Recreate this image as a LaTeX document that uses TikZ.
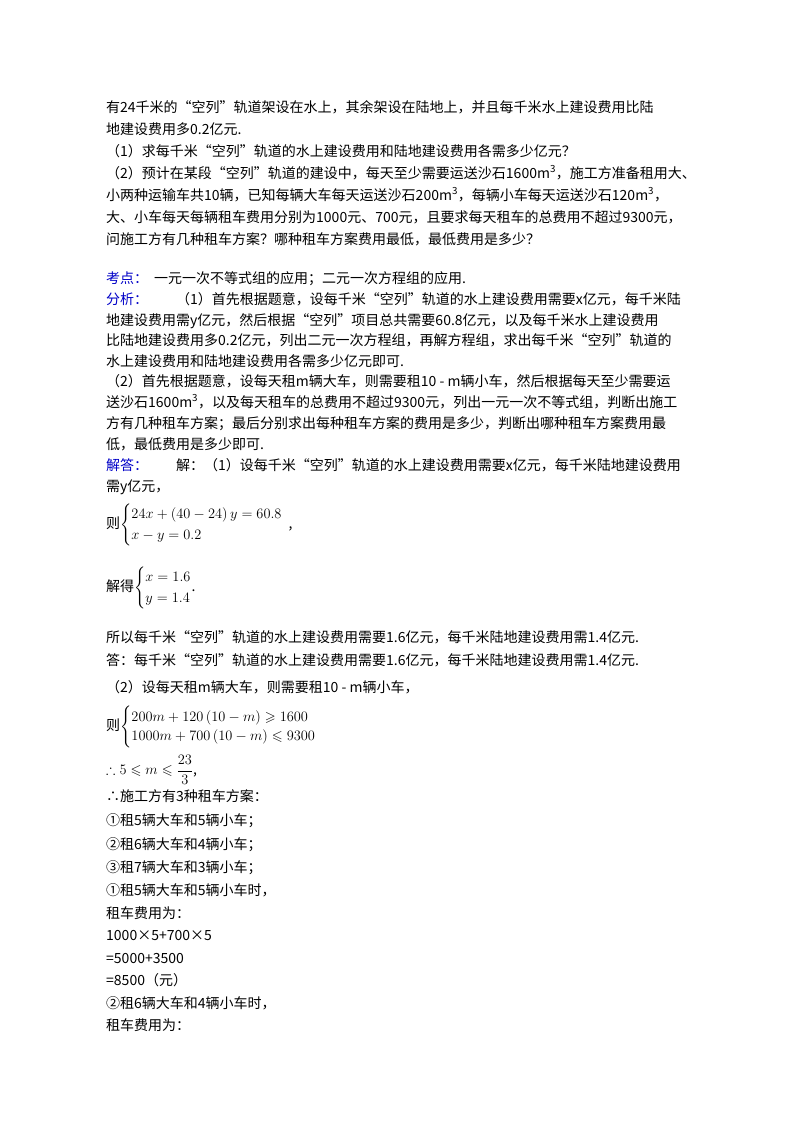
\documentclass[tikz,border=0pt]{standalone}
\usepackage{amsmath,amssymb}
\usepackage{fontspec}
\setmainfont{Noto Sans CJK SC}
\begin{document}
\begin{tikzpicture}[x=1pt,y=-1pt,
  ln/.style={anchor=base west,inner sep=0pt,font=\fontsize{14}{16}\selectfont},
  kw/.style={ln,text={rgb,255:red,0;green,0;blue,200}}]
\useasboundingbox (0,0) rectangle (800,1132);
\fill[white] (0,0) rectangle (800,1132);
\node[ln] (l1) at (106,112) {有24千米的“空列”轨道架设在水上，其余架设在陆地上，并且每千米水上建设费用比陆};
\node[ln] (l2) at (106,134) {地建设费用多0.2亿元.};
\node[ln] (l3) at (106,156) {（1）求每千米“空列”轨道的水上建设费用和陆地建设费用各需多少亿元？};
\node[ln] (l4) at (106,178) {（2）预计在某段“空列”轨道的建设中，每天至少需要运送沙石1600m\textsuperscript{3}，施工方准备租用大、};
\node[ln] (l5) at (106,200) {小两种运输车共10辆，已知每辆大车每天运送沙石200m\textsuperscript{3}，每辆小车每天运送沙石120m\textsuperscript{3}，};
\node[ln] (l6) at (106,222) {大、小车每天每辆租车费用分别为1000元、700元，且要求每天租车的总费用不超过9300元，};
\node[ln] (l7) at (106,244) {问施工方有几种租车方案？哪种租车方案费用最低，最低费用是多少？};
\node[kw] (k1) at (106,283) {考点：};
\node[ln] (k1t) at (154,283) {一元一次不等式组的应用；二元一次方程组的应用.};
\node[kw] (k2) at (106,304) {分析：};
\node[ln] (k2t) at (176,304) {（1）首先根据题意，设每千米“空列”轨道的水上建设费用需要x亿元，每千米陆};
\node[ln] (a2) at (106,325) {地建设费用需y亿元，然后根据“空列”项目总共需要60.8亿元，以及每千米水上建设费用};
\node[ln] (a3) at (106,345) {比陆地建设费用多0.2亿元，列出二元一次方程组，再解方程组，求出每千米“空列”轨道的};
\node[ln] (a4) at (106,366) {水上建设费用和陆地建设费用各需多少亿元即可.};
\node[ln] (a5) at (106,386) {（2）首先根据题意，设每天租m辆大车，则需要租10 - m辆小车，然后根据每天至少需要运};
\node[ln] (a6) at (106,407) {送沙石1600m\textsuperscript{3}，以及每天租车的总费用不超过9300元，列出一元一次不等式组，判断出施工};
\node[ln] (a7) at (106,428) {方有几种租车方案；最后分别求出每种租车方案的费用是多少，判断出哪种租车方案费用最};
\node[ln] (a8) at (106,449) {低，最低费用是多少即可.};
\node[kw] (k3) at (106,470) {解答：};
\node[ln] (s1) at (176,470) {解：（1）设每千米“空列”轨道的水上建设费用需要x亿元，每千米陆地建设费用};
\node[ln] (s2) at (106,491) {需y亿元，};
\node[ln,anchor=west] (e1) at (106,525) {则$\renewcommand{\arraystretch}{1.3}\left\{\begin{array}{@{}l@{}}24x+(40-24)\,y=60.8\\ x-y=0.2\end{array}\right.$\hspace{6pt},};
\node[ln,anchor=west] (e2) at (106,588) {解得$\renewcommand{\arraystretch}{1.3}\left\{\begin{array}{@{}l@{}}x=1.6\\ y=1.4\end{array}\right.$.};
\node[ln] (s3) at (106,642) {所以每千米“空列”轨道的水上建设费用需要1.6亿元，每千米陆地建设费用需1.4亿元.};
\node[ln] (s4) at (106,665) {答：每千米“空列”轨道的水上建设费用需要1.6亿元，每千米陆地建设费用需1.4亿元.};
\node[ln] (t1) at (106,692) {（2）设每天租m辆大车，则需要租10 - m辆小车，};
\node[ln,anchor=west] (e3) at (106,727) {则$\renewcommand{\arraystretch}{1.2}\left\{\begin{array}{@{}l@{}}200m+120\,(10-m)\geqslant 1600\\ 1000m+700\,(10-m)\leqslant 9300\end{array}\right.$};
\node[ln,anchor=west] (e4) at (106,770) {$\therefore 5\leqslant m\leqslant \dfrac{23}{3}$,};
\node[ln] (u1) at (106,801) {∴施工方有3种租车方案：};
\node[ln] (u2) at (106,825) {①租5辆大车和5辆小车；};
\node[ln] (u3) at (106,849) {②租6辆大车和4辆小车；};
\node[ln] (u4) at (106,872) {③租7辆大车和3辆小车；};
\node[ln] (u5) at (106,895) {①租5辆大车和5辆小车时，};
\node[ln] (u6) at (106,918) {租车费用为：};
\node[ln] (u7) at (106,940) {1000×5+700×5};
\node[ln] (u8) at (106,963) {=5000+3500};
\node[ln] (u9) at (106,985) {=8500（元）};
\node[ln] (u10) at (106,1008) {②租6辆大车和4辆小车时，};
\node[ln] (u11) at (106,1030) {租车费用为：};
\end{tikzpicture}
\end{document}
